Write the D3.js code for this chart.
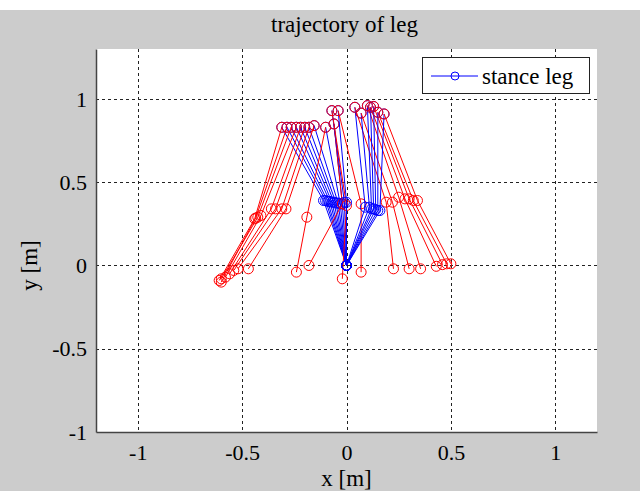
<!DOCTYPE html>
<html>
<head>
<meta charset="utf-8">
<script src="https://cdn.jsdelivr.net/npm/d3@7"></script>
<style>
  html, body { margin: 0; padding: 0; background: #cccccc; }
  svg { display: block; }
</style>
</head>
<body>
<svg id="chart" width="640" height="491"></svg>
<script>
// ---- data (one entry per frame) ----
const hipX        = [-0.31, -0.285, -0.265, -0.24, -0.22, -0.20, -0.18, -0.155, -0.10, -0.06, -0.07, -0.04, 0.04, 0.07, 0.10, 0.115, 0.13, 0.15, 0.18];
const hipY        = [0.83, 0.83, 0.83, 0.83, 0.83, 0.83, 0.83, 0.84, 0.83, 0.85, 0.93, 0.93, 0.95, 0.915, 0.96, 0.95, 0.955, 0.92, 0.91];
const stanceKneeX = [-0.11, -0.10, -0.09, -0.08, -0.07, -0.06, -0.05, -0.04, -0.03, -0.02, -0.01, 0.00, 0.09, 0.11, 0.12, 0.13, 0.14, 0.15, 0.16];
const stanceKneeY = [0.39, 0.39, 0.385, 0.385, 0.38, 0.38, 0.375, 0.375, 0.37, 0.37, 0.38, 0.38, 0.35, 0.35, 0.34, 0.34, 0.335, 0.33, 0.33];
const swingKneeX  = [-0.44, -0.435, -0.425, -0.41, -0.36, -0.34, -0.31, -0.29, -0.19, -0.02, 0.00, 0.07, 0.19, 0.22, 0.25, 0.28, 0.30, 0.32, 0.34];
const swingKneeY  = [0.28, 0.285, 0.29, 0.30, 0.34, 0.34, 0.34, 0.34, 0.29, 0.37, 0.36, 0.37, 0.38, 0.38, 0.41, 0.40, 0.40, 0.39, 0.39];
const swingFootX  = [-0.61, -0.60, -0.60, -0.58, -0.56, -0.54, -0.52, -0.47, -0.24, -0.18, -0.02, 0.07, 0.225, 0.30, 0.355, 0.43, 0.46, 0.48, 0.50];
const swingFootY  = [-0.09, -0.10, -0.08, -0.07, -0.05, -0.03, -0.02, -0.02, -0.04, 0.00, -0.08, -0.04, -0.02, -0.02, -0.02, -0.005, 0.005, 0.01, 0.01];
const stanceFootX = 0;
const stanceFootY = 0;

const xTicks = [-1, -0.5, 0, 0.5, 1];
const yTicks = [-1, -0.5, 0, 0.5, 1];
const xTickLabels = ["-1", "-0.5", "0", "0.5", "1"];
const yTickLabels = ["-1", "-0.5", "0", "0.5", "1"];
const titleText = "trajectory of leg";
const xLabel = "x [m]";
const yLabel = "y [m]";
const legendLabel = "stance leg";

// ---- layout ----
const svg = d3.select("#chart");
const W = 640, H = 491;
const plot = { left: 96, right: 597, top: 49, bottom: 432 };
const x = d3.scaleLinear().domain([-1.2, 1.2]).range([plot.left, plot.right]);
const y = d3.scaleLinear().domain([-1, 1.3]).range([plot.bottom, plot.top]);
const serif = "'Liberation Serif', 'Times New Roman', serif";

svg.append("rect").attr("x", 0).attr("y", 0).attr("width", W).attr("height", H).attr("fill", "#cccccc");
svg.append("rect").attr("x", 0).attr("y", 0).attr("width", W).attr("height", 10).attr("fill", "#ffffff");

// plot area
svg.append("rect")
  .attr("x", plot.left).attr("y", plot.top)
  .attr("width", plot.right - plot.left).attr("height", plot.bottom - plot.top)
  .attr("fill", "#ffffff");

// grid
const grid = svg.append("g").attr("stroke", "#222").attr("stroke-width", 1).attr("stroke-dasharray", "3,3");
grid.selectAll("line.vx").data(xTicks).join("line")
  .attr("x1", d => Math.round(x(d)) + 0.5).attr("x2", d => Math.round(x(d)) + 0.5)
  .attr("y1", plot.top).attr("y2", plot.bottom);
grid.selectAll("line.hy").data(yTicks.filter(d => d > -1)).join("line")
  .attr("y1", d => Math.round(y(d)) + 0.5).attr("y2", d => Math.round(y(d)) + 0.5)
  .attr("x1", plot.left).attr("x2", plot.right);

// axes (left & bottom)
const xAxis = d3.axisBottom(x).tickValues(xTicks).tickSize(0).tickPadding(12).tickFormat((d, i) => xTickLabels[i]);
const yAxis = d3.axisLeft(y).tickValues(yTicks).tickSize(0).tickPadding(9).tickFormat((d, i) => yTickLabels[i]);
const gx = svg.append("g").attr("transform", `translate(0,${plot.bottom})`).call(xAxis);
const gy = svg.append("g").attr("transform", `translate(${plot.left},0)`).call(yAxis);
[gx, gy].forEach(g => {
  g.select(".domain").attr("stroke", "#444").attr("stroke-width", 1.5);
  g.selectAll("text").attr("font-family", serif).attr("font-size", 22).attr("fill", "#000");
});
gx.selectAll("text").attr("dy", "0.71em");

// frames: blue stance leg, red swing leg
const frames = d3.range(hipX.length).map(i => ({
  stance: [[stanceFootX, stanceFootY], [stanceKneeX[i], stanceKneeY[i]], [hipX[i], hipY[i]]],
  swing:  [[hipX[i], hipY[i]], [swingKneeX[i], swingKneeY[i]], [swingFootX[i], swingFootY[i]]]
}));
const line = d3.line().x(d => x(d[0])).y(d => y(d[1]));
const marks = svg.append("g");
frames.forEach(f => {
  [["stance", "#0000ff"], ["swing", "#ff0000"]].forEach(([k, c]) => {
    const g = marks.append("g");
    g.append("path").attr("d", line(f[k])).attr("fill", "none").attr("stroke", c).attr("stroke-width", 1);
    g.selectAll("circle").data(f[k]).join("circle")
      .attr("cx", d => x(d[0])).attr("cy", d => y(d[1])).attr("r", 5)
      .attr("fill", "none").attr("stroke", c).attr("stroke-width", 1);
  });
});

// title & labels
svg.append("text").attr("x", (plot.left + plot.right) / 2 - 2).attr("y", 32)
  .attr("text-anchor", "middle").attr("font-family", serif).attr("font-size", 23).text(titleText);
svg.append("text").attr("x", x(0)).attr("y", 486)
  .attr("text-anchor", "middle").attr("font-family", serif).attr("font-size", 23).text(xLabel);
svg.append("text").attr("transform", `translate(37,${y(0)}) rotate(-90)`)
  .attr("text-anchor", "middle").attr("font-family", serif).attr("font-size", 23).text(yLabel);

// legend
const lg = svg.append("g");
lg.append("rect").attr("x", 422.5).attr("y", 57.5).attr("width", 167).attr("height", 36)
  .attr("fill", "#fff").attr("stroke", "#222").attr("stroke-width", 1);
lg.append("line").attr("x1", 431).attr("x2", 478).attr("y1", 76).attr("y2", 76).attr("stroke", "#0000ff").attr("stroke-width", 1);
lg.append("circle").attr("cx", 455).attr("cy", 76).attr("r", 4).attr("fill", "none").attr("stroke", "#0000ff");
lg.append("text").attr("x", 482).attr("y", 84).attr("font-family", serif).attr("font-size", 23).text(legendLabel);
</script>
</body>
</html>
